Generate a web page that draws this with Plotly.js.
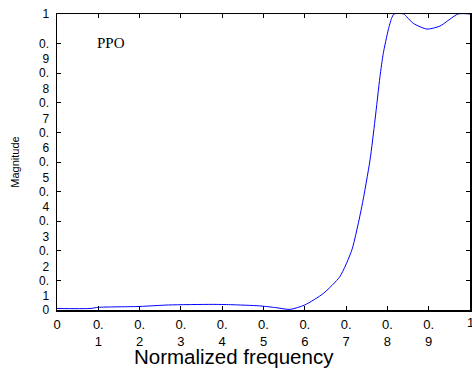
<!DOCTYPE html>
<html>
<head>
<meta charset="utf-8">
<script src="https://cdn.plot.ly/plotly-3.0.1.min.js"></script>
<style>html,body{margin:0;padding:0;background:#fff;}#chart{width:472px;height:369px;}</style>
</head>
<body>
<div id="chart"></div>
<script>
const freq = [0, 0.08, 0.1, 0.2, 0.27, 0.375, 0.42, 0.49, 0.53, 0.564, 0.6, 0.645, 0.685, 0.714, 0.738, 0.758, 0.77, 0.782, 0.79, 0.802, 0.81, 0.816, 0.84, 0.847, 0.863, 0.896, 0.927, 0.971, 1.0];
const magnitude = [0.005, 0.005, 0.009, 0.012, 0.017, 0.019, 0.018, 0.014, 0.008, 0.002, 0.017, 0.056, 0.113, 0.203, 0.349, 0.507, 0.642, 0.788, 0.867, 0.946, 0.985, 1.0, 1.0, 0.99, 0.968, 0.949, 0.959, 1.0, 1.0];
const xTickVals = [0, 0.1, 0.2, 0.3, 0.4, 0.5, 0.6, 0.7, 0.8, 0.9, 1];
const xTickText = ["0", "0.<br>1", "0.<br>2", "0.<br>3", "0.<br>4", "0.<br>5", "0.<br>6", "0.<br>7", "0.<br>8", "0.<br>9", "1"];
const yTickVals = [0, 0.1, 0.2, 0.3, 0.4, 0.5, 0.6, 0.7, 0.8, 0.9, 1];
const yTickText = ["0", " <br>0.<br>1", " <br>0.<br>2", " <br>0.<br>3", " <br>0.<br>4", " <br>0.<br>5", " <br>0.<br>6", " <br>0.<br>7", " <br>0.<br>8", " <br>0.<br>9", "1"];
const seriesLabel = "PPO";
const xTitle = "Normalized frequency";
const yTitle = "Magnitude";

const trace = {
  x: freq, y: magnitude, type: 'scatter', mode: 'lines',
  line: {color: '#0000ff', width: 1, shape: 'spline', smoothing: 0.6}, hoverinfo: 'skip'
};
const axisCommon = {
  showgrid: false, zeroline: false, showline: true, linecolor: '#000', linewidth: 1.5,
  mirror: 'ticks', ticks: 'inside', ticklen: 4, tickwidth: 1, tickcolor: '#000'
};
const tickFontX = {size: 13, family: 'Liberation Sans, Arial, sans-serif', color: '#000'};
const layout = {
  width: 472, height: 369,
  margin: {l: 57, r: 2, t: 14, b: 58.5, pad: 0},
  paper_bgcolor: '#fff', plot_bgcolor: '#fff',
  showlegend: false,
  font: {family: 'Liberation Sans, Arial, sans-serif', color: '#000'},
  xaxis: Object.assign({}, axisCommon, {
    range: [0, 1], tickmode: 'array', tickvals: xTickVals, ticktext: xTickText,
    tickfont: tickFontX, ticklabelstandoff: 2
  }),
  yaxis: Object.assign({}, axisCommon, {
    range: [0, 1], tickmode: 'array', tickvals: yTickVals, ticktext: yTickText,
    tickfont: {size: 12, family: 'Liberation Sans, Arial, sans-serif', color: '#000'},
    ticklabelstandoff: 4,
    title: {text: yTitle, font: {size: 11, family: 'Liberation Sans, Arial, sans-serif', color: '#000'}, standoff: 17}
  }),
  annotations: [
    {text: xTitle, xref: 'paper', yref: 'paper', x: (234 - 57) / 413, y: 0, yshift: -33,
     xanchor: 'center', yanchor: 'top', showarrow: false,
     font: {size: 20.5, family: 'Liberation Sans, Arial, sans-serif', color: '#000'}},
    {text: xTickText[xTickText.length - 1], xref: 'x', yref: 'paper', x: xTickVals[xTickVals.length - 1], y: 0, yshift: -12,
     xanchor: 'center', yanchor: 'middle', showarrow: false, font: tickFontX},
    {text: seriesLabel, xref: 'x', yref: 'y', x: 0.092, y: 0.902, xanchor: 'left', yanchor: 'middle',
     showarrow: false, font: {size: 15, family: 'Liberation Serif, Times New Roman, serif', color: '#000'}}
  ]
};
Plotly.newPlot('chart', [trace], layout, {displayModeBar: false, staticPlot: true});
</script>
</body>
</html>
